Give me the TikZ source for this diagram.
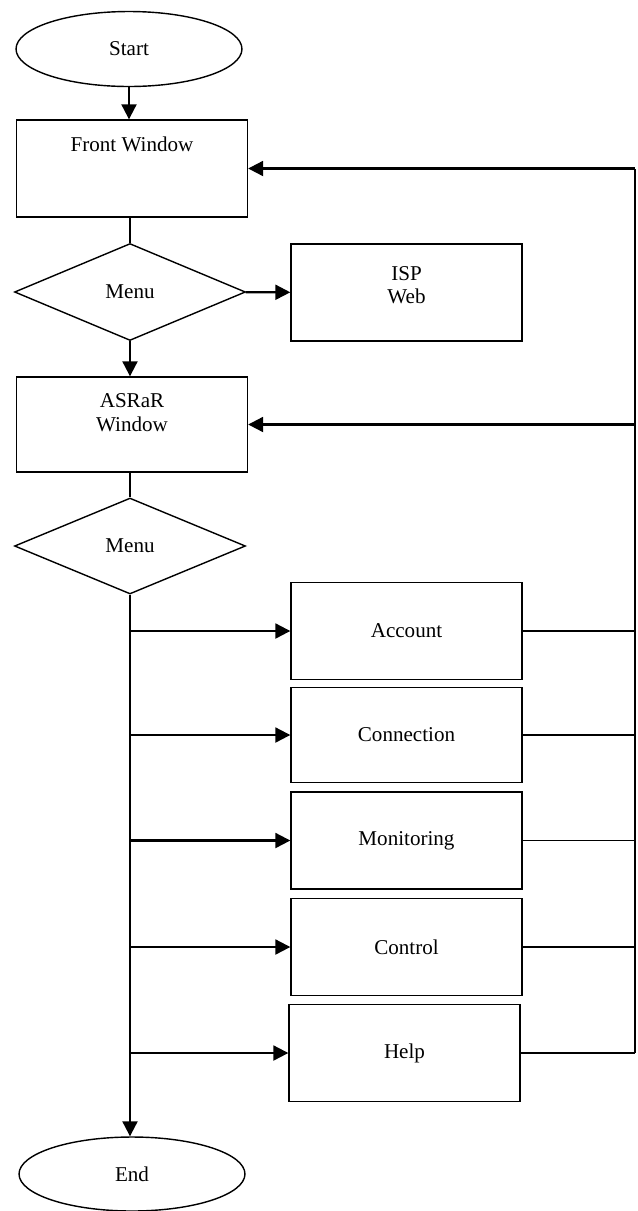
\documentclass[tikz,border=0pt]{standalone}
\usepackage{fontspec}
\setmainfont{Liberation Serif}
\usetikzlibrary{shapes.geometric,arrows.meta}

\tikzset{
	term/.style={draw,ellipse,line width=0.8pt,minimum width=4.52cm,minimum height=1.5cm,inner sep=0pt},
	proc/.style={draw,rectangle,line width=0.8pt,minimum width=4.62cm,minimum height=1.94cm,inner sep=0pt},
	dec/.style={draw,diamond,line width=0.8pt,minimum width=4.62cm,minimum height=1.94cm,inner sep=0pt},
	flow/.style={line width=1.2pt,-{Triangle[length=8.5pt,width=8.5pt]}},
	link/.style={line width=0.7pt},
	toptext/.style 2 args={label={[anchor=center,align=center,yshift=-#1]north:#2}},
}

\begin{document}
\begin{tikzpicture}[x=0.02cm,y=-0.02cm,font=\fontsize{12}{13.5}\selectfont]
	\useasboundingbox (0,0) rectangle (638,1211);
	\node[term] (start) at (129,49) {Start};
	\node[proc,toptext={0.5cm}{Front Window}] (front) at (132,168.5) {};
	\node[dec] (menuA) at (130,292) {Menu};
	\node[proc,toptext={0.84cm}{ISP\\Web}] (isp) at (406.5,292.5) {};
	\node[proc,minimum height=1.9cm,toptext={0.73cm}{ASRaR\\Window}] (asrar) at (132,424.5) {};
	\node[dec,minimum height=1.92cm] (menuB) at (130,546) {Menu};
	\node[proc] (account) at (406.5,631) {Account};
	\node[proc,minimum height=1.9cm] (connection) at (406.5,735) {Connection};
	\node[proc] (monitoring) at (406.5,840.5) {Monitoring};
	\node[proc] (control) at (406.5,947) {Control};
	\node[proc] (help) at (404.5,1053) {Help};
	\node[term,minimum height=1.48cm] (end) at (132,1174) {End};
	\coordinate (rail) at (635,0);
	%\draw[help lines] (0,0) grid[step=50] (638,1211);
	\draw[flow] (start) -- (start |- front.north);
	\draw[link] (menuA.north |- front.south) -- (menuA.north);
	\draw[flow] (menuA) -- (isp);
	\draw[flow] (menuA) -- (menuA |- asrar.north);
	\draw[link] (menuB.north |- asrar.south) -- (menuB.north);
	\draw[flow] (menuB) -- (menuB |- end.north);
	\foreach \b in {account,connection,monitoring,control,help}{
		\draw[flow] (menuB.south |- \b.west) -- (\b.west);
		\draw[link] (\b.east) -- (\b.east -| rail);
	}
	\draw[link] (help.east -| rail) -- (front.east -| rail);
	\draw[flow] (front.east -| rail) -- (front.east);
	\draw[flow] (asrar.east -| rail) -- (asrar.east);
\end{tikzpicture}
\end{document}
